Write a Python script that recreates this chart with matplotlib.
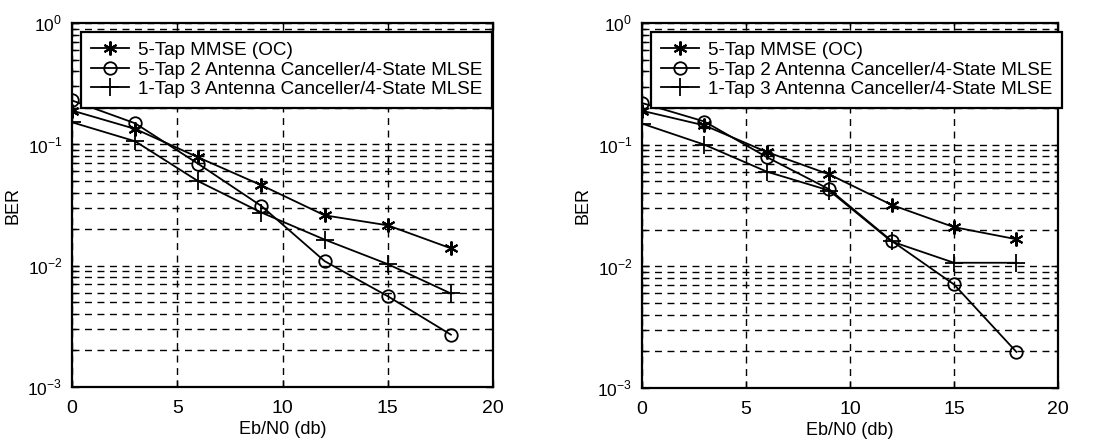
import matplotlib
matplotlib.use("Agg")
import matplotlib.pyplot as plt
from matplotlib.ticker import FixedLocator, LogLocator, NullFormatter

plt.rcParams['font.family'] = ['Liberation Sans', 'DejaVu Sans']
plt.rcParams['mathtext.fontset'] = 'custom'
plt.rcParams['mathtext.rm'] = 'Liberation Sans'

# Eb/N0 operating points (dB)
ebn0 = [0, 3, 6, 9, 12, 15, 18]

series_labels = [
    "5-Tap MMSE (OC)",
    "5-Tap 2 Antenna Canceller/4-State MLSE",
    "1-Tap 3 Antenna Canceller/4-State MLSE",
]

# Left panel BER curves
ber_mmse_a = [0.19, 0.134, 0.078, 0.046, 0.026, 0.0215, 0.0139]
ber_2ant_a = [0.23, 0.149, 0.069, 0.031, 0.0109, 0.0056, 0.0027]
ber_3ant_a = [0.152, 0.106, 0.0496, 0.0274, 0.0164, 0.0103, 0.0059]

# Right panel BER curves
ber_mmse_b = [0.19, 0.144, 0.087, 0.057, 0.032, 0.021, 0.0167]
ber_2ant_b = [0.22, 0.155, 0.079, 0.043, 0.0162, 0.0071, 0.00198]
ber_3ant_b = [0.149, 0.100, 0.060, 0.042, 0.016, 0.0107, 0.0107]

x_ticks = [0, 5, 10, 15, 20]
y_ticks = [1e-3, 1e-2, 1e-1, 1e0]
y_ticklabels = [r"$10^{-3}$", r"$10^{-2}$", r"$10^{-1}$", r"$10^{0}$"]

W, H = 1097, 444
fig = plt.figure(figsize=(W / 100, H / 100), dpi=100)

panels = [
    ((72, 23, 493, 387), (ber_mmse_a, ber_2ant_a, ber_3ant_a)),
    ((642, 23, 1058, 388), (ber_mmse_b, ber_2ant_b, ber_3ant_b)),
]

asterisk = (6, 2, 0)
styles = [
    dict(marker=asterisk, markersize=10, markeredgewidth=1.5),
    dict(marker='o', markersize=9, markerfacecolor='none', markeredgewidth=1.3),
    dict(marker='+', markersize=13, markeredgewidth=1.3),
]

for (x0, y0, x1, y1), curves in panels:
    ax = fig.add_axes([x0 / W, 1 - y1 / H, (x1 - x0) / W, (y1 - y0) / H])
    for vals, st, lab in zip(curves, styles, series_labels):
        ax.plot(ebn0, vals, color='black', linewidth=1.3, label=lab, **st)
    ax.set_yscale('log')
    ax.set_xlim(0, 20)
    ax.set_ylim(1e-3, 1)
    ax.xaxis.set_major_locator(FixedLocator(x_ticks))
    ax.set_xticklabels([str(t) for t in x_ticks])
    ax.yaxis.set_major_locator(FixedLocator(y_ticks))
    ax.set_yticklabels(y_ticklabels)
    ax.yaxis.set_minor_locator(LogLocator(base=10, subs=range(2, 10)))
    ax.yaxis.set_minor_formatter(NullFormatter())
    ax.grid(True, which='major', axis='both', color='black', linestyle=(0, (5, 4)), linewidth=1.0)
    ax.grid(True, which='minor', axis='y', color='black', linestyle=(0, (5, 4)), linewidth=1.0)
    ax.tick_params(which='both', direction='in', top=True, right=True, width=1, colors='black')
    ax.tick_params(axis='x', which='major', labelsize=14, pad=9)
    ax.tick_params(axis='y', which='major', labelsize=12.5, pad=7)
    ax.tick_params(which='major', length=5)
    ax.tick_params(which='minor', length=3)
    for s in ax.spines.values():
        s.set_linewidth(1.6)
    ax.set_xlabel("Eb/N0 (db)", fontsize=13, labelpad=3)
    ax.set_ylabel("BER", fontsize=13, labelpad=4)
    leg = ax.legend(loc='upper left', bbox_to_anchor=(0.0, 1.0), borderaxespad=0.5,
                    fontsize=13.6, frameon=True, fancybox=False, handlelength=2.0,
                    handletextpad=0.5, borderpad=0.5, labelspacing=0.12)
    leg.get_frame().set_edgecolor('black')
    leg.get_frame().set_linewidth(1.6)
    leg.get_frame().set_alpha(1)

fig.savefig("out.png", dpi=100, facecolor='white')
